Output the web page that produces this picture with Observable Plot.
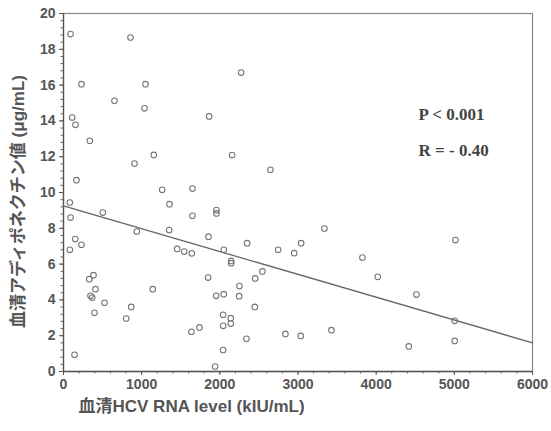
<!DOCTYPE html>
<html>
<head>
<meta charset="utf-8">
<script src="https://cdn.jsdelivr.net/npm/d3@7"></script>
<script src="https://cdn.jsdelivr.net/npm/@observablehq/plot@0.6"></script>
<style>
  html, body { margin: 0; padding: 0; background: #ffffff; }
</style>
</head>
<body>
<div id="chart"></div>
<script>
// HCV RNA level (kIU/mL)
const hcvRNA = [
  90, 857, 230, 1049, 652, 1036, 111, 153, 337, 1155,
  908, 166, 1262, 1650, 2272, 1863, 2157, 2647, 81, 90,
  503, 1356, 1650, 938, 1352, 150, 230, 81, 1454, 1544,
  1641, 329, 384, 409, 1142, 345, 367, 524, 866, 396,
  802, 1637, 1739, 141, 1957, 1957, 3338, 1855, 2349, 3040,
  2050, 2746, 2951, 3824, 2145, 2145, 2545, 2452, 4020, 1850,
  2251, 1953, 2050, 2247, 2447, 2042, 2140, 2140, 2042, 2839,
  3035, 3428, 2341, 2042, 1940, 5014, 4515, 5005, 5005, 4417
];
// Serum adiponectin (µg/mL)
const adiponectin = [
  18.85, 18.66, 16.05, 16.05, 15.12, 14.7, 14.19, 13.78, 12.89, 12.1,
  11.62, 10.69, 10.15, 10.22, 16.7, 14.25, 12.09, 11.27, 9.44, 8.6,
  8.88, 9.35, 8.7, 7.82, 7.9, 7.4, 7.08, 6.8, 6.85, 6.7,
  6.6, 5.16, 5.38, 4.6, 4.6, 4.23, 4.13, 3.84, 3.61, 3.28,
  2.96, 2.22, 2.46, 0.93, 9.02, 8.83, 7.99, 7.53, 7.17, 7.17,
  6.8, 6.8, 6.61, 6.37, 6.18, 6.05, 5.59, 5.2, 5.29, 5.25,
  4.77, 4.23, 4.32, 4.21, 3.61, 3.17, 2.98, 2.68, 2.55, 2.1,
  1.99, 2.31, 1.83, 1.2, 0.28, 7.34, 4.3, 2.83, 1.71, 1.4
];
// Regression line endpoints
const fitX = [0, 6000];
const fitY = [9.25, 1.6];
// Ticks
const xTicks = [0, 1000, 2000, 3000, 4000, 5000, 6000];
const yTicks = [0, 2, 4, 6, 8, 10, 12, 14, 16, 18, 20];
const statsLabels = ["P < 0.001", "R = - 0.40"];
const xTitle = "血清HCV RNA level (kIU/mL)";
const yTitle = "血清アディポネクチン値 (μg/mL)";

const points = hcvRNA.map((x, i) => ({x, y: adiponectin[i]}));
const fit = fitX.map((x, i) => ({x, y: fitY[i]}));
const xMinor = d3.range(0, 6001, 200);
const yMinor = d3.range(0, 20.001, 0.4);

const cjkFont = "'Liberation Sans', Arial, 'Noto Sans CJK JP', sans-serif";
const serif = "'Liberation Serif', 'Times New Roman', serif";

const chart = Plot.plot({
  width: 551,
  height: 431,
  marginLeft: 63,
  marginRight: 19,
  marginTop: 13,
  marginBottom: 60,
  style: {
    background: "#ffffff",
    fontFamily: cjkFont,
    fontSize: "14px",
    fontWeight: "bold",
    color: "#555"
  },
  x: {domain: [0, 6000]},
  y: {domain: [0, 20]},
  marks: [
    Plot.frame({stroke: "#888", strokeWidth: 1.2}),
    Plot.axisX(xMinor, {tickSize: 2.5, text: null, stroke: "#666", label: null}),
    Plot.axisX(xTicks, {tickSize: 4, tickPadding: 4, tickFormat: "d", stroke: "#555", fill: "#555", label: null}),
    Plot.axisY(yMinor, {tickSize: 2.5, text: null, stroke: "#666", label: null}),
    Plot.axisY(yTicks, {tickSize: 4, tickPadding: 4, tickFormat: "d", stroke: "#555", fill: "#555", label: null}),
    Plot.ruleY([0], {stroke: "#555", strokeWidth: 1.3}),
    Plot.ruleX([0], {stroke: "#555", strokeWidth: 1.3}),
    Plot.line(fit, {x: "x", y: "y", stroke: "#666", strokeWidth: 1.3}),
    Plot.dot(points, {x: "x", y: "y", r: 2.8, stroke: "#777", strokeWidth: 1.1, fill: "none"}),
    Plot.text([statsLabels[0]], {frameAnchor: "top-left", dx: 355, dy: 94, text: d => d, textAnchor: "start",
      fontFamily: serif, fontSize: 17, fontWeight: "bold", fill: "#444"}),
    Plot.text([statsLabels[1]], {frameAnchor: "top-left", dx: 355, dy: 130, text: d => d, textAnchor: "start",
      fontFamily: serif, fontSize: 17, fontWeight: "bold", fill: "#444"}),
    Plot.text([xTitle], {frameAnchor: "bottom-left", dx: 15, dy: 40, text: d => d, textAnchor: "start",
      fontSize: 17, fontWeight: "bold", fill: "#555", clip: false}),
    Plot.text([yTitle], {frameAnchor: "left", dx: -45, dy: 9, rotate: -90, text: d => d, textAnchor: "middle",
      fontSize: 17, fontWeight: "bold", fill: "#555", clip: false})
  ]
});
document.getElementById("chart").append(chart);
</script>
</body>
</html>
